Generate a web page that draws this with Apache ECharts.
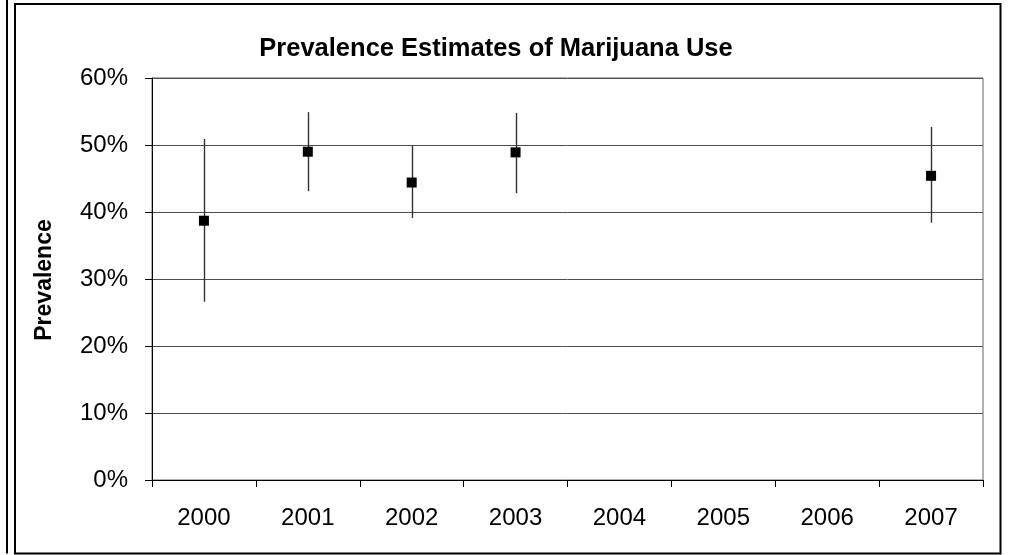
<!DOCTYPE html>
<html>
<head>
<meta charset="utf-8">
<script src="https://cdn.jsdelivr.net/npm/echarts@6/dist/echarts.min.js"></script>
<style>
html,body{margin:0;padding:0;background:#fff;}
#chart{width:1009px;height:555px;}
</style>
</head>
<body>
<div id="chart"></div>
<script>
const years = ['2000', '2001', '2002', '2003', '2004', '2005', '2006', '2007'];
const estimates = [38.7, 49.0, 44.4, 48.9, null, null, null, 45.4];
const lowerCI = [26.6, 43.1, 39.1, 42.8, null, null, null, 38.4];
const upperCI = [50.9, 54.9, 49.9, 54.8, null, null, null, 52.7];
const yTicks = { min: 0, max: 60, interval: 10 };

const FONT = '"Liberation Sans", Arial, sans-serif';
const errData = years.map((y, i) => [i, lowerCI[i], upperCI[i]]).filter(d => d[1] != null);

const chart = echarts.init(document.getElementById('chart'), null, { renderer: 'canvas' });
chart.setOption({
  animation: false,
  backgroundColor: '#fff',
  title: {
    text: 'Prevalence Estimates of Marijuana Use',
    left: 496, top: 36, textAlign: 'center', padding: 0,
    textStyle: { fontFamily: FONT, fontSize: 25.5, fontWeight: 'bold', color: '#000' }
  },
  grid: { left: 152, top: 78, right: 26, bottom: 75, show: true, borderColor: '#666', borderWidth: 1, backgroundColor: 'transparent' },
  xAxis: {
    type: 'category', data: years, boundaryGap: true,
    axisLine: { lineStyle: { color: '#000', width: 1 } },
    axisTick: { show: true, length: 7, inside: false, lineStyle: { color: '#000' } },
    axisLabel: { fontFamily: FONT, fontSize: 24, color: '#000', margin: 26 },
    splitLine: { show: false }
  },
  yAxis: {
    type: 'value', min: yTicks.min, max: yTicks.max, interval: yTicks.interval,
    axisLine: { show: true, lineStyle: { color: '#000', width: 1 } },
    axisTick: { show: true, length: 7, lineStyle: { color: '#000' } },
    axisLabel: { fontFamily: FONT, fontSize: 24, color: '#000', margin: 24, formatter: '{value}%' },
    splitLine: { show: true, lineStyle: { color: '#4d4d4d', width: 1 } }
  },
  graphic: [
    { type: 'rect', shape: { x: 15, y: 4, width: 985.5, height: 549.5 }, style: { fill: 'none', stroke: '#000', lineWidth: 2 }, z: 100 },
    { type: 'line', shape: { x1: 7, y1: 0, x2: 7, y2: 553.5 }, style: { stroke: '#000', lineWidth: 2 }, z: 100 },
    { type: 'text', x: 45, y: 280, rotation: Math.PI / 2,
      style: { text: 'Prevalence', fontFamily: FONT, fontSize: 23, fontWeight: 'bold', fill: '#000', textAlign: 'center', textVerticalAlign: 'middle' }, z: 100 }
  ],
  series: [
    {
      type: 'custom',
      data: errData,
      renderItem: function (params, api) {
        const lo = api.coord([api.value(0), api.value(1)]);
        const hi = api.coord([api.value(0), api.value(2)]);
        return {
          type: 'line',
          shape: { x1: Math.round(lo[0]) + 0.5, y1: lo[1], x2: Math.round(hi[0]) + 0.5, y2: hi[1] },
          style: { stroke: '#333', lineWidth: 1.4 }
        };
      },
      z: 3
    },
    {
      type: 'scatter',
      data: estimates,
      symbol: 'rect',
      symbolSize: 10,
      itemStyle: { color: '#000', opacity: 1 },
      z: 5
    }
  ]
});
</script>
</body>
</html>
